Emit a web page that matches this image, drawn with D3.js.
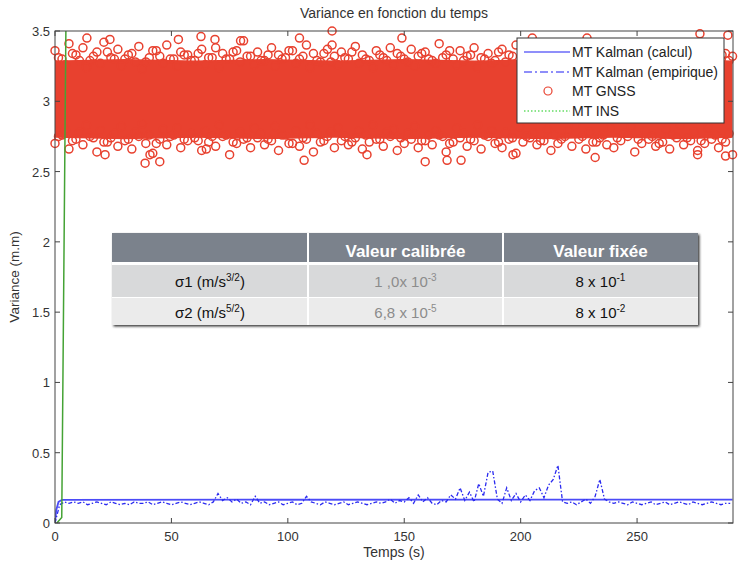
<!DOCTYPE html>
<html><head><meta charset="utf-8">
<script src="https://cdn.jsdelivr.net/npm/d3@7/dist/d3.min.js"></script>
<style>body{margin:0;background:#fff;}svg{display:block;font-family:"Liberation Sans",Arial,sans-serif;}</style>
</head><body><svg id="c" width="740" height="562"></svg>
<script>
// ---------- DATA ----------
const xTicks = [0, 50, 100, 150, 200, 250];
const yTicks = [0, 0.5, 1, 1.5, 2, 2.5, 3, 3.5];
// GNSS: dense core of the cloud (solid), plus edge samples
const gnssCoreT   = [0, 30, 60, 90, 120, 150, 180, 210, 240, 270, 291];
const gnssCoreTop = [3.29,3.30,3.29,3.30,3.29,3.30,3.29,3.30,3.29,3.30,3.29];
const gnssCoreBot = [2.74,2.73,2.74,2.73,2.74,2.73,2.74,2.73,2.74,2.73,2.74];
const gnssStep = 3; // s between edge samples
const gnssUpper = [3.36,3.30,3.41,3.33,3.38,3.29,3.35,3.42,3.31,3.37,
3.30,3.34,3.39,3.28,3.36,3.32,3.40,3.30,3.35,3.33,
3.29,3.37,3.31,3.38,3.34,3.30,3.36,3.43,3.32,3.35,
3.29,3.38,3.33,3.31,3.36,3.30,3.40,3.34,3.28,3.37,
3.32,3.35,3.30,3.39,3.33,3.29,3.36,3.31,3.38,3.34,
3.30,3.37,3.32,3.35,3.29,3.41,3.33,3.30,3.36,3.32,
3.38,3.31,3.34,3.29,3.37,3.33,3.40,3.30,3.35,3.32,
3.28,3.36,3.31,3.39,3.34,3.30,3.37,3.33,3.29,3.38,
3.32,3.35,3.30,3.36,3.41,3.31,3.34,3.38,3.30,3.36,
3.33,3.39,3.31,3.35,3.30,3.37,3.34,3.32];
const gnssLower = [2.70,2.76,2.66,2.73,2.69,2.75,2.64,2.71,2.74,2.68,
2.72,2.66,2.75,2.70,2.63,2.73,2.69,2.76,2.67,2.72,
2.74,2.65,2.71,2.68,2.75,2.62,2.70,2.73,2.67,2.74,
2.69,2.72,2.65,2.76,2.70,2.68,2.73,2.64,2.71,2.75,
2.67,2.72,2.69,2.74,2.66,2.71,2.73,2.68,2.75,2.65,
2.70,2.73,2.67,2.72,2.69,2.76,2.64,2.71,2.74,2.68,
2.72,2.66,2.75,2.70,2.67,2.73,2.63,2.71,2.74,2.69,
2.72,2.65,2.70,2.75,2.68,2.73,2.66,2.71,2.74,2.69,
2.67,2.72,2.75,2.64,2.70,2.73,2.68,2.71,2.66,2.74,
2.69,2.72,2.65,2.70,2.73,2.67,2.71,2.62];
// second edge row, sampled at t = 1.5 + 3i
const gnssUpper2 = [3.31,3.26,3.34,3.29,3.24,3.32,3.27,3.35,3.30,3.25,
3.33,3.28,3.23,3.31,3.36,3.27,3.30,3.25,3.33,3.29,
3.34,3.26,3.31,3.24,3.30,3.35,3.28,3.32,3.26,3.29,
3.33,3.25,3.30,3.36,3.27,3.32,3.24,3.29,3.34,3.28,
3.26,3.31,3.35,3.27,3.30,3.24,3.33,3.29,3.26,3.32,
3.28,3.25,3.34,3.30,3.27,3.31,3.36,3.26,3.29,3.33,
3.24,3.30,3.27,3.35,3.28,3.32,3.25,3.31,3.29,3.34,
3.26,3.30,3.33,3.27,3.24,3.31,3.28,3.35,3.30,3.26,
3.32,3.29,3.25,3.33,3.28,3.31,3.36,3.27,3.30,3.24,
3.32,3.28,3.34,3.26,3.30,3.33,3.29];
const gnssLower2 = [2.75,2.80,2.72,2.78,2.83,2.74,2.79,2.71,2.77,2.82,
2.73,2.78,2.84,2.76,2.70,2.80,2.75,2.81,2.73,2.77,
2.72,2.79,2.75,2.83,2.76,2.71,2.78,2.74,2.81,2.77,
2.73,2.82,2.76,2.70,2.79,2.74,2.83,2.77,2.72,2.78,
2.81,2.75,2.71,2.79,2.76,2.83,2.73,2.78,2.80,2.74,
2.77,2.82,2.72,2.76,2.79,2.75,2.70,2.81,2.77,2.73,
2.83,2.76,2.79,2.71,2.78,2.74,2.82,2.75,2.77,2.72,
2.80,2.76,2.73,2.79,2.83,2.75,2.78,2.71,2.76,2.81,
2.74,2.77,2.82,2.73,2.79,2.75,2.70,2.80,2.76,2.83,
2.74,2.78,2.72,2.81,2.76,2.73,2.77];
const gnssOutliers = [[13.7,3.45],[23.6,3.44],[53,3.44],[62.7,3.46],[68.7,3.44],[79.7,3.43],
[105,3.45],[119,3.50],[119,3.40],[149,3.45],[205,3.45],[228.5,3.45],[277,3.48],[289,3.47],
[21.5,2.62],[38.7,2.56],[45,2.57],[40.8,2.62],[107,2.58],[134,2.62],[65,2.66],
[159,2.57],[168.4,2.58],[174.4,2.58],[196.7,2.62],[232,2.60],[276,2.62],[288,2.61]];
const kalmanCalc = [[0,0],[0.5,0.09],[1.5,0.15],[3,0.165],[291,0.167]];
const empStep = 2;
const kalmanEmp = [0.00,0.13,0.15,0.14,0.15, 0.14,0.15,0.13,0.14,0.15,
0.14,0.13,0.15,0.14,0.13, 0.14,0.13,0.15,0.14,0.14,
0.15,0.13,0.14,0.15,0.14, 0.13,0.14,0.15,0.14,0.13,
0.14,0.15,0.14,0.13,0.15, 0.21,0.16,0.18,0.15,0.17,
0.14,0.15,0.13,0.19,0.14, 0.15,0.13,0.14,0.15,0.13,
0.14,0.15,0.13,0.14,0.19, 0.15,0.14,0.13,0.15,0.14,
0.13,0.14,0.15,0.13,0.14, 0.15,0.14,0.13,0.14,0.15,
0.14,0.15,0.17,0.14,0.16, 0.15,0.18,0.14,0.20,0.15,
0.18,0.14,0.13,0.16,0.15, 0.20,0.17,0.25,0.16,0.22,
0.15,0.28,0.19,0.36,0.37, 0.17,0.14,0.25,0.16,0.21,
0.15,0.20,0.16,0.23,0.25, 0.18,0.27,0.31,0.41,0.15,
0.14,0.15,0.13,0.15,0.17, 0.14,0.19,0.31,0.17,0.15,
0.14,0.15,0.14,0.13,0.15, 0.14,0.13,0.14,0.15,0.13,
0.14,0.15,0.13,0.14,0.15, 0.14,0.13,0.15,0.14,0.13,
0.14,0.15,0.14,0.13,0.14, 0.14];
const ins = [[0.8,0.0],[2.9,0.04],[4.7,3.56]];
const legendLabels = ["MT Kalman (calcul)","MT Kalman (empirique)","MT GNSS","MT INS"];
const tableHeaders = ["", "Valeur calibrée", "Valeur fixée"];
const tableRows = [
  [["σ1 (m/s","3/2",")"], ["1 ,0x 10","-3",""], ["8 x 10","-1",""]],
  [["σ2 (m/s","5/2",")"], ["6,8 x 10","-5",""], ["8 x 10","-2",""]]
];

// ---------- LAYOUT ----------
const svg = d3.select("#c");
const L = 55, R = 733, T = 31, B = 523;
const x = d3.scaleLinear().domain([0, 291.2]).range([L, R]);
const y = d3.scaleLinear().domain([0, 3.5]).range([B, T]);
const RED = "#e8412f";

svg.append("defs").append("clipPath").attr("id","clip")
  .append("rect").attr("x",L).attr("y",T).attr("width",R-L).attr("height",B-T);
const sh = svg.select("defs").append("filter").attr("id","shadow").attr("x","-5%").attr("y","-5%").attr("width","115%").attr("height","120%");
sh.append("feDropShadow").attr("dx",1.5).attr("dy",1.5).attr("stdDeviation",0.8).attr("flood-color","#222").attr("flood-opacity",0.9);

// title & labels
svg.append("text").attr("x",(L+R)/2).attr("y",18).attr("text-anchor","middle")
  .attr("font-size",14).attr("fill","#333").text("Variance en fonction du temps");
svg.append("text").attr("x",(L+R)/2).attr("y",557).attr("text-anchor","middle")
  .attr("font-size",14).attr("fill","#333").text("Temps (s)");
svg.append("text").attr("transform",`translate(19,${(T+B)/2}) rotate(-90)`).attr("text-anchor","middle")
  .attr("font-size",13.5).attr("fill","#333").text("Variance (m.m)");

// GNSS cloud
const core = gnssCoreT.map((t,i)=>({t, u:gnssCoreTop[i], l:gnssCoreBot[i]}));
svg.append("path").datum(core)
  .attr("d", d3.area().x(d=>x(d.t)).y0(d=>y(d.l)).y1(d=>y(d.u)))
  .attr("fill",RED);
const gpts = gnssUpper.map((v,i)=>[i*gnssStep,v])
  .concat(gnssLower.map((v,i)=>[i*gnssStep,v]))
  .concat(gnssUpper2.map((v,i)=>[1.5+i*gnssStep,v]))
  .concat(gnssLower2.map((v,i)=>[1.5+i*gnssStep,v]))
  .concat(gnssOutliers);
svg.append("g").selectAll("circle").data(gpts).join("circle")
  .attr("cx",d=>x(d[0])).attr("cy",d=>y(d[1])).attr("r",4)
  .attr("fill","none").attr("stroke",RED).attr("stroke-width",1.5);

const plot = svg.append("g").attr("clip-path","url(#clip)");
const line = d3.line().x(d=>x(d[0])).y(d=>y(d[1]));
plot.append("path").datum(kalmanCalc).attr("d",line).attr("fill","none")
  .attr("stroke","#4b4bf7").attr("stroke-width",1.8);
plot.append("path").datum(kalmanEmp.map((v,i)=>[i*empStep,v])).attr("d",line).attr("fill","none")
  .attr("stroke","#2a2af0").attr("stroke-width",1.3).attr("stroke-dasharray","4,2,1.5,2");
plot.append("path").datum(ins).attr("d",line).attr("fill","none")
  .attr("stroke","#45a335").attr("stroke-width",1.5);

// frame and ticks
const ax = svg.append("g").attr("stroke","#444").attr("stroke-width",1);
ax.append("rect").attr("x",L).attr("y",T).attr("width",R-L).attr("height",B-T).attr("fill","none");
const tl = 5;
xTicks.forEach(v=>{
  ax.append("line").attr("x1",x(v)).attr("x2",x(v)).attr("y1",B).attr("y2",B-tl);
  ax.append("line").attr("x1",x(v)).attr("x2",x(v)).attr("y1",T).attr("y2",T+tl);
});
yTicks.forEach(v=>{
  ax.append("line").attr("x1",L).attr("x2",L+tl).attr("y1",y(v)).attr("y2",y(v));
  ax.append("line").attr("x1",R).attr("x2",R-tl).attr("y1",y(v)).attr("y2",y(v));
});
svg.append("g").selectAll("text").data(xTicks).join("text")
  .attr("x",d=>x(d)).attr("y",541).attr("text-anchor","middle").attr("font-size",13).attr("fill","#333")
  .text(d=>d3.format("")(d));
svg.append("g").selectAll("text").data(yTicks).join("text")
  .attr("x",L-5).attr("y",d=>y(d)+5).attr("text-anchor","end").attr("font-size",13).attr("fill","#333")
  .text(d=>d3.format("")(d));

// legend
const lg = svg.append("g");
lg.append("rect").attr("x",517).attr("y",38).attr("width",207).attr("height",85)
  .attr("fill","#fff").attr("stroke","#333").attr("stroke-width",1);
const ly = [52,72,91,111];
lg.append("line").attr("x1",524).attr("x2",570).attr("y1",ly[0]).attr("y2",ly[0]).attr("stroke","#6a6af8").attr("stroke-width",1.5);
lg.append("line").attr("x1",524).attr("x2",570).attr("y1",ly[1]).attr("y2",ly[1]).attr("stroke","#6a6af8").attr("stroke-width",1.3).attr("stroke-dasharray","8,3,2,3");
lg.append("circle").attr("cx",548).attr("cy",ly[2]).attr("r",4).attr("fill","none").attr("stroke",RED).attr("stroke-width",1.2);
lg.append("line").attr("x1",524).attr("x2",570).attr("y1",ly[3]).attr("y2",ly[3]).attr("stroke","#66dd66").attr("stroke-width",1.3).attr("stroke-dasharray","1.5,2");
lg.selectAll("text").data(legendLabels).join("text")
  .attr("x",572).attr("y",(d,i)=>ly[i]+5).attr("font-size",14).attr("fill","#222").text(d=>d);

// table
const cols = [112, 308, 503, 698];
const rowsY = [[233,262],[265,297],[298,325]];
const tb = svg.append("g");
tb.append("rect").attr("x",cols[0]).attr("y",rowsY[0][0]).attr("width",cols[3]-cols[0]).attr("height",rowsY[2][1]-rowsY[0][0])
  .attr("fill","#fff").attr("filter","url(#shadow)");
const fills = ["#7b828c","#d8d9da","#ebebeb"];
for (let r=0;r<3;r++) for (let c=0;c<3;c++) {
  tb.append("rect").attr("x",cols[c]+(c?1:0)).attr("y",rowsY[r][0]).attr("width",cols[c+1]-cols[c]-(c?1:0)-(c<2?1:0))
    .attr("height",rowsY[r][1]-rowsY[r][0]).attr("fill",fills[r]);
}
tableHeaders.forEach((h,c)=>{
  tb.append("text").attr("x",(cols[c]+cols[c+1])/2).attr("y",257).attr("text-anchor","middle")
    .attr("font-size",17).attr("font-weight","bold").attr("fill","#fff").text(h);
});
const rowBase = [287, 318];
tableRows.forEach((row,r)=>{
  row.forEach((cell,c)=>{
    const t = tb.append("text").attr("x",(cols[c]+cols[c+1])/2).attr("y",rowBase[r])
      .attr("text-anchor","middle").attr("font-size",15).attr("fill", c===1?"#8c8c8c":"#111");
    t.append("tspan").text(cell[0]);
    t.append("tspan").attr("font-size",10).attr("dy",-6).text(cell[1]);
    if (cell[2]) t.append("tspan").attr("dy",6).text(cell[2]);
  });
});
</script></body></html>
